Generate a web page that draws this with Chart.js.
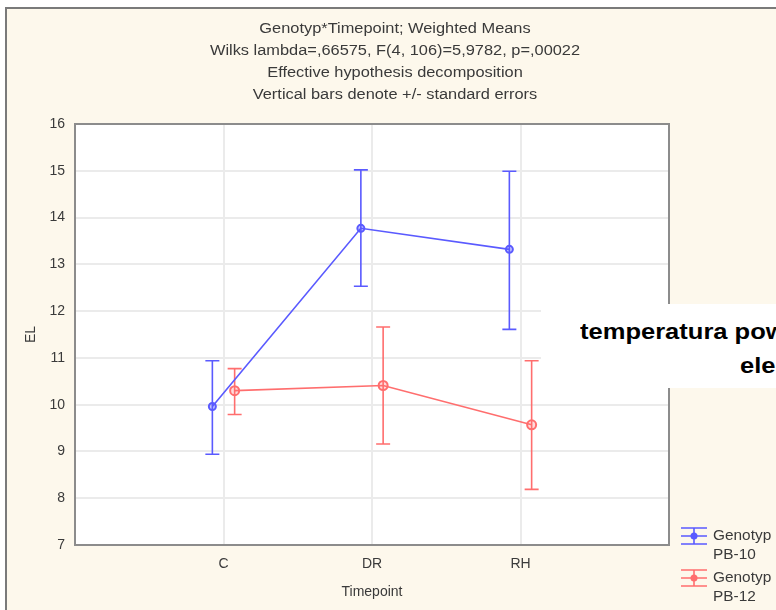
<!DOCTYPE html>
<html>
<head>
<meta charset="utf-8">
<script src="https://cdn.jsdelivr.net/npm/chart.js@4.4.0/dist/chart.umd.min.js"></script>
<style>
  html, body { margin: 0; padding: 0; background: #fff; overflow: hidden; }
  #wrap { position: relative; width: 776px; height: 610px; }
  #note {
    position: absolute; left: 541px; top: 304px; width: 235px; height: 84px;
    background: #fff; overflow: hidden; white-space: nowrap;
    font: bold 22px "Liberation Sans", Arial, sans-serif; color: #000;
  }
  #note span { position: absolute; transform: scaleX(1.16); transform-origin: 0 0; }
</style>
</head>
<body>
<div id="wrap">
  <canvas id="c" width="776" height="610"></canvas>
  <div id="note"><span style="left:39px;top:15px">temperatura powietrza</span><span style="left:199px;top:49px">elektryczna</span></div>
</div>
<script>
// dane
const timepoints = ["C", "DR", "RH"];
const pb10Mean  = [9.96, 13.77, 13.32];
const pb10Upper = [10.94, 15.02, 14.99];
const pb10Lower = [8.94, 12.53, 11.61];
const pb12Mean  = [10.30, 10.41, 9.57];
const pb12Upper = [10.77, 11.66, 10.94];
const pb12Lower = [9.79, 9.16, 8.19];
const yTicks = [7, 8, 9, 10, 11, 12, 13, 14, 15, 16];
const titleLines = [
  "Genotyp*Timepoint; Weighted Means",
  "Wilks lambda=,66575, F(4, 106)=5,9782, p=,00022",
  "Effective hypothesis decomposition",
  "Vertical bars denote +/- standard errors"
];
const legendItems = [["Genotyp", "PB-10"], ["Genotyp", "PB-12"]];

const FONT = '"Liberation Sans", Arial, sans-serif';
const BLUE = "#5a5aff";
const RED = "#ff6e6e";

function points(means, shift) {
  return means.map((m, i) => ({ x: i + 1 + shift, y: m }));
}

const bounds = [
  { upper: pb10Upper, lower: pb10Lower },
  { upper: pb12Upper, lower: pb12Lower }
];

// tlo, ramka zewnetrzna, biale pole wykresu
const backPlugin = {
  id: "back",
  beforeDraw(chart) {
    const ctx = chart.ctx, a = chart.chartArea;
    ctx.save();
    ctx.fillStyle = "#fff";
    ctx.fillRect(0, 0, chart.width, chart.height);
    ctx.fillStyle = "#fdf8ec";
    ctx.fillRect(6, 8, chart.width, chart.height);
    ctx.strokeStyle = "#7a7a7a";
    ctx.lineWidth = 2;
    ctx.beginPath();
    ctx.moveTo(6, chart.height);
    ctx.lineTo(6, 8);
    ctx.lineTo(chart.width, 8);
    ctx.stroke();
    ctx.fillStyle = "#fff";
    ctx.fillRect(a.left, a.top, a.right - a.left, a.bottom - a.top);
    ctx.restore();
  }
};

// slupki bledow
const errorPlugin = {
  id: "errors",
  beforeDatasetsDraw(chart) {
    const ctx = chart.ctx;
    const xs = chart.scales.x, ys = chart.scales.y;
    ctx.save();
    chart.data.datasets.forEach((ds, d) => {
      ctx.strokeStyle = ds.borderColor;
      ctx.lineWidth = 1.6;
      ds.data.forEach((p, i) => {
        const px = xs.getPixelForValue(p.x);
        const top = ys.getPixelForValue(bounds[d].upper[i]);
        const bot = ys.getPixelForValue(bounds[d].lower[i]);
        ctx.beginPath();
        ctx.moveTo(px, top); ctx.lineTo(px, bot);
        ctx.moveTo(px - 7, top); ctx.lineTo(px + 7, top);
        ctx.moveTo(px - 7, bot); ctx.lineTo(px + 7, bot);
        ctx.stroke();
      });
    });
    ctx.restore();
  }
};

// ramka, tytul, legenda
const decoPlugin = {
  id: "deco",
  afterDraw(chart) {
    const ctx = chart.ctx, a = chart.chartArea;
    ctx.save();
    ctx.strokeStyle = "#8c8c8c";
    ctx.lineWidth = 2;
    ctx.strokeRect(a.left, a.top, a.right - a.left, a.bottom - a.top);

    // tytul (lekko rozciagniety jak w oryginale)
    ctx.fillStyle = "#3a3a3a";
    ctx.font = "14px " + FONT;
    ctx.textAlign = "center";
    ctx.textBaseline = "middle";
    titleLines.forEach((t, i) => {
      ctx.save();
      ctx.translate(395, 29 + i * 22);
      ctx.scale(1.17, 1);
      ctx.fillText(t, 0, 0);
      ctx.restore();
    });

    // legenda
    const colors = [BLUE, RED];
    ctx.textAlign = "left";
    ctx.font = "14px " + FONT;
    legendItems.forEach((lines, i) => {
      const cy = 536 + i * 42;
      ctx.strokeStyle = colors[i];
      ctx.fillStyle = colors[i];
      ctx.lineWidth = 1.6;
      ctx.beginPath();
      ctx.moveTo(681, cy - 8); ctx.lineTo(707, cy - 8);
      ctx.moveTo(681, cy); ctx.lineTo(707, cy);
      ctx.moveTo(681, cy + 8); ctx.lineTo(707, cy + 8);
      ctx.moveTo(694, cy - 8); ctx.lineTo(694, cy + 8);
      ctx.stroke();
      ctx.beginPath();
      ctx.arc(694, cy, 3.5, 0, Math.PI * 2);
      ctx.fill();
      ctx.fillStyle = "#3a3a3a";
      ctx.save();
      ctx.translate(713, cy);
      ctx.scale(1.1, 1);
      ctx.fillText(lines[0], 0, 0);
      ctx.fillText(lines[1], 0, 19);
      ctx.restore();
    });
    ctx.restore();
  }
};

new Chart(document.getElementById("c"), {
  type: "line",
  data: {
    datasets: [
      {
        label: "Genotyp PB-10",
        data: points(pb10Mean, -0.075),
        borderColor: BLUE,
        backgroundColor: "rgba(90,90,255,0.35)",
        borderWidth: 1.6,
        pointRadius: 3.5,
        pointBorderWidth: 2,
        tension: 0
      },
      {
        label: "Genotyp PB-12",
        data: points(pb12Mean, 0.075),
        borderColor: RED,
        backgroundColor: "rgba(255,110,110,0.25)",
        borderWidth: 1.6,
        pointRadius: 4.5,
        pointBorderWidth: 2,
        tension: 0
      }
    ]
  },
  options: {
    responsive: false,
    animation: false,
    events: [],
    layout: { padding: { left: 0, top: 124, right: 107, bottom: 0 } },
    plugins: {
      legend: { display: false },
      title: { display: false },
      tooltip: { enabled: false }
    },
    scales: {
      x: {
        type: "linear",
        min: 0,
        max: 4,
        afterBuildTicks(scale) {
          scale.ticks = timepoints.map((t, i) => ({ value: i + 1 }));
        },
        afterFit(scale) { scale.height = 65; },
        ticks: {
          callback: (v) => timepoints[v - 1],
          color: "#3a3a3a",
          font: { family: FONT, size: 14 },
          padding: 11,
          maxRotation: 0
        },
        grid: { color: "#ebebeb", lineWidth: 2, drawTicks: false },
        border: { display: false },
        title: {
          display: true,
          text: "Timepoint",
          color: "#3a3a3a",
          font: { family: FONT, size: 14 },
          padding: { top: 0, bottom: 9 }
        }
      },
      y: {
        min: 7,
        max: 16,
        afterBuildTicks(scale) {
          scale.ticks = yTicks.map((v) => ({ value: v }));
        },
        afterFit(scale) { scale.width = 75; },
        ticks: {
          color: "#3a3a3a",
          font: { family: FONT, size: 14 },
          padding: 10
        },
        grid: { color: "#ebebeb", lineWidth: 2, drawTicks: false },
        border: { display: false },
        title: {
          display: true,
          text: "EL",
          color: "#3a3a3a",
          font: { family: FONT, size: 14 },
          padding: { top: 23, bottom: 0 }
        }
      }
    }
  },
  plugins: [backPlugin, errorPlugin, decoPlugin]
});
</script>
</body>
</html>
